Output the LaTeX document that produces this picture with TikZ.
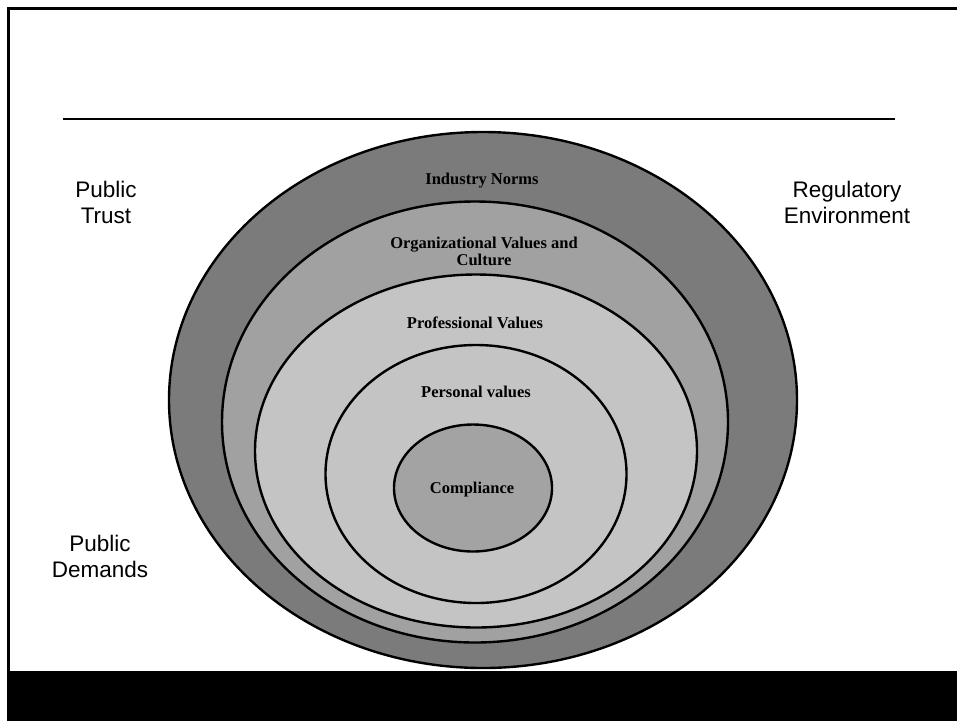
\documentclass[tikz,border=0pt]{standalone}
\usepackage{fontspec}
\newfontfamily\sansfont{Liberation Sans}
\newfontfamily\labelfont{Liberation Serif}
\usetikzlibrary{shapes.geometric}
\definecolor{ringA}{RGB}{123,123,123}
\definecolor{ringB}{RGB}{161,161,161}
\definecolor{ringC}{RGB}{196,196,196}
\definecolor{ringD}{RGB}{163,163,163}
\tikzset{
  x=1pt, y=-1pt,
  ring/.style={ellipse, draw=black, line width=2.4pt, inner sep=0pt},
  inlabel/.style={font=\labelfont\bfseries\fontsize{16.5}{17}\selectfont, align=center, inner sep=0pt},
  outlabel/.style={font=\sansfont\fontsize{22.5}{26}\selectfont, align=center, inner sep=0pt},
}
\begin{document}
\begin{tikzpicture}
\useasboundingbox (0,0) rectangle (957,721);
\fill[white] (0,0) rectangle (957,721);
% frame
\draw[line width=3pt, black] (8.5,671) -- (8.5,8.5) -- (957,8.5);
\fill[black] (7,671) rectangle (957,721);
% header rule
\coordinate (ruleL) at (63,119);
\coordinate (ruleR) at (895,119);
\draw[line width=1.4pt] (ruleL) -- (ruleR);
% rings
\node[ring, fill=ringA, minimum width=628pt, minimum height=536pt] (outer) at (483,400) {};
\node[ring, fill=ringB, minimum width=506pt, minimum height=441pt] (org) at (475,422) {};
\node[ring, fill=ringC, minimum width=442pt, minimum height=353pt] (prof) at (476,451) {};
\node[ring, fill=ringC, minimum width=301pt, minimum height=258pt] (pers) at (476,474) {};
\node[ring, fill=ringD, minimum width=158pt, minimum height=127pt] (comp) at (473,488) {};
% inner labels
\node[inlabel] (tIN) at (482,181) {Industry Norms};
\node[inlabel] (tOV) at (484,251) {Organizational Values and\\Culture};
\node[inlabel] (tPV) at (475,323) {Professional Values};
\node[inlabel] (tPe) at (476,392) {Personal values};
\node[inlabel] (tCo) at (472,490) {Compliance};
% outer labels
\node[outlabel] (tPT) at (106,202) {Public\\Trust};
\node[outlabel] (tRE) at (847,202) {Regulatory\\Environment};
\node[outlabel] (tPD) at (100,556) {Public\\Demands};
\end{tikzpicture}
\end{document}
